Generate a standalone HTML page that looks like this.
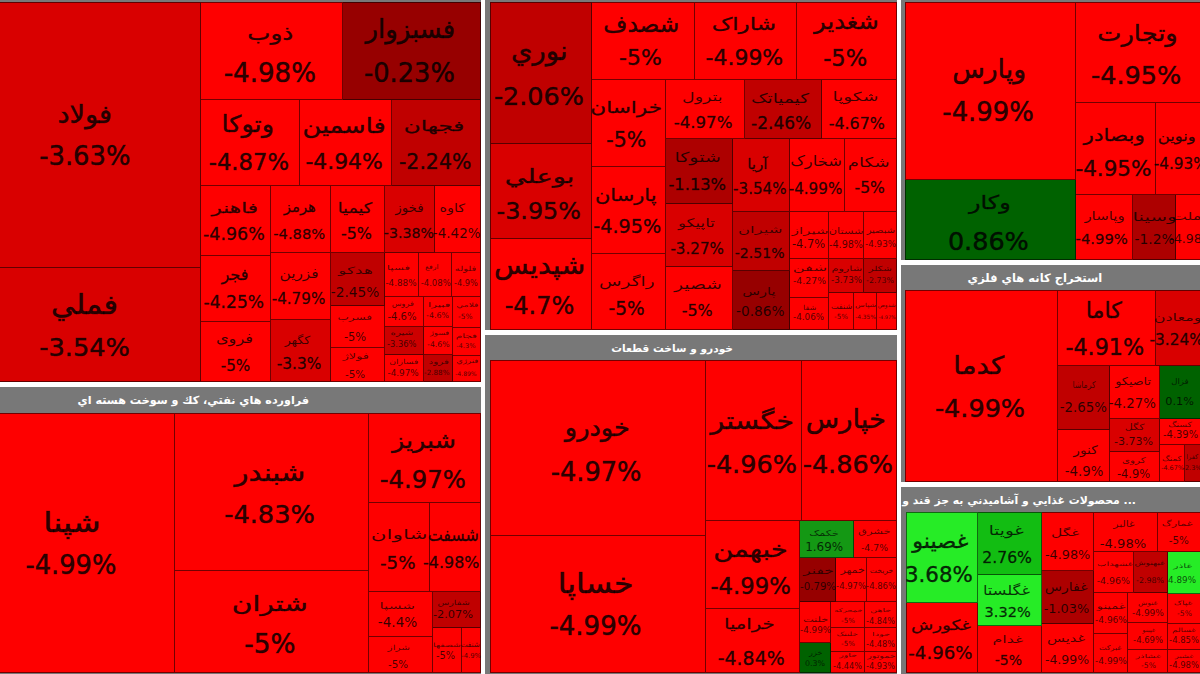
<!DOCTYPE html>
<html lang="fa"><head><meta charset="utf-8"><title>نقشه بازار</title>
<style>
html,body{margin:0;padding:0;background:#fff;}
body{width:1200px;height:674px;overflow:hidden;position:relative;font-family:"DejaVu Sans","Liberation Sans",sans-serif;}
.s{position:absolute;background:#787878;}
.h{position:absolute;height:25px;line-height:25px;color:#fff;font-weight:bold;font-size:11.5px;white-space:nowrap;direction:rtl;}
.c{position:absolute;box-sizing:border-box;border-right:1px solid rgba(0,0,0,0.55);border-bottom:1px solid rgba(0,0,0,0.55);overflow:hidden;color:rgba(0,0,0,0.84);white-space:nowrap;}
.a{display:flex;flex-direction:column;align-items:center;justify-content:center;text-align:center;}
.t{position:absolute;line-height:1.5;white-space:nowrap;-webkit-text-stroke:0.025em rgba(0,0,0,0.6);}
.r{direction:rtl;}
.tl{position:absolute;left:0;top:0;width:1200px;height:674px;overflow:hidden;color:rgba(0,0,0,0.84);}
</style></head><body>

<div class="s" style="left:0px;top:0px;width:481px;height:382px"></div>
<div class="s" style="left:485px;top:0px;width:412px;height:330px"></div>
<div class="s" style="left:901px;top:0px;width:299px;height:260px"></div>
<div class="s" style="left:0px;top:387px;width:481px;height:287px"></div>
<div class="h" style="left:77.6px;top:388px;font-size:11.17px">فراورده هاي نفتي، كك و سوخت هسته اي</div>
<div class="s" style="left:485px;top:335px;width:412px;height:339px"></div>
<div class="h" style="left:611.2px;top:336px;font-size:10.66px">خودرو و ساخت قطعات</div>
<div class="s" style="left:901px;top:265px;width:299px;height:217px"></div>
<div class="h" style="left:967.6px;top:266px;font-size:11.5px">استخراج كانه هاي فلزي</div>
<div class="s" style="left:901px;top:487px;width:299px;height:187px"></div>
<div class="h" style="left:902.3px;top:488px;font-size:10.86px">... محصولات غذايي و آشاميدني به جز قند و</div>
<div class="c" style="left:0px;top:2px;width:201px;height:266px;background:#d90000;box-shadow:inset 0px 1px 0 rgba(0,0,0,0.55);"></div>
<div class="c" style="left:0px;top:268px;width:201px;height:114px;background:#d90000;"></div>
<div class="c" style="left:201px;top:2px;width:142px;height:98px;background:#fe0000;box-shadow:inset 0px 1px 0 rgba(0,0,0,0.55);"></div>
<div class="c" style="left:343px;top:2px;width:138px;height:98px;background:#970000;box-shadow:inset 0px 1px 0 rgba(0,0,0,0.55);"></div>
<div class="c" style="left:201px;top:100px;width:99px;height:86px;background:#fe0000;"></div>
<div class="c" style="left:300px;top:100px;width:92px;height:86px;background:#fe0000;"></div>
<div class="c" style="left:392px;top:100px;width:89px;height:86px;background:#c00000;"></div>
<div class="c" style="left:201px;top:186px;width:70px;height:70px;background:#fe0000;"></div>
<div class="c" style="left:271px;top:186px;width:60px;height:67px;background:#fe0000;"></div>
<div class="c" style="left:331px;top:186px;width:54px;height:67px;background:#fe0000;"></div>
<div class="c" style="left:385px;top:186px;width:50px;height:67px;background:#d90000;"></div>
<div class="c" style="left:435px;top:186px;width:46px;height:67px;background:#fe0000;"></div>
<div class="c" style="left:201px;top:256px;width:70px;height:66px;background:#fe0000;"></div>
<div class="c" style="left:201px;top:322px;width:70px;height:60px;background:#fe0000;"></div>
<div class="c" style="left:271px;top:253px;width:60px;height:67px;background:#fe0000;"></div>
<div class="c" style="left:271px;top:320px;width:60px;height:62px;background:#d90000;"></div>
<div class="c" style="left:331px;top:253px;width:54px;height:53px;background:#c00000;"></div>
<div class="c" style="left:331px;top:306px;width:54px;height:42px;background:#fe0000;"></div>
<div class="c" style="left:331px;top:348px;width:54px;height:34px;background:#fe0000;"></div>
<div class="c" style="left:385px;top:253px;width:34px;height:44px;background:#fe0000;"></div>
<div class="c" style="left:419px;top:253px;width:33px;height:44px;background:#fe0000;"></div>
<div class="c" style="left:452px;top:253px;width:29px;height:44px;background:#fe0000;"></div>
<div class="c" style="left:385px;top:297px;width:39px;height:30px;background:#fe0000;"></div>
<div class="c" style="left:424px;top:297px;width:29px;height:30px;background:#fe0000;"></div>
<div class="c" style="left:453px;top:297px;width:28px;height:31px;background:#fe0000;"></div>
<div class="c" style="left:385px;top:327px;width:39px;height:28px;background:#cc0000;"></div>
<div class="c" style="left:424px;top:327px;width:29px;height:28px;background:#fe0000;"></div>
<div class="c" style="left:453px;top:328px;width:28px;height:28px;background:#fe0000;"></div>
<div class="c" style="left:385px;top:355px;width:39px;height:27px;background:#fe0000;"></div>
<div class="c" style="left:424px;top:355px;width:29px;height:27px;background:#c00000;"></div>
<div class="c" style="left:453px;top:356px;width:28px;height:26px;background:#fe0000;"></div>
<div class="c" style="left:490px;top:2px;width:102px;height:142px;background:#c00000;box-shadow:inset 1px 1px 0 rgba(0,0,0,0.55);"></div>
<div class="c" style="left:490px;top:144px;width:102px;height:95px;background:#d90000;box-shadow:inset 1px 0px 0 rgba(0,0,0,0.55);"></div>
<div class="c" style="left:490px;top:239px;width:102px;height:91px;background:#fe0000;box-shadow:inset 1px 0px 0 rgba(0,0,0,0.55);"></div>
<div class="c" style="left:592px;top:2px;width:103px;height:78px;background:#fe0000;box-shadow:inset 0px 1px 0 rgba(0,0,0,0.55);"></div>
<div class="c" style="left:695px;top:2px;width:102px;height:78px;background:#fe0000;box-shadow:inset 0px 1px 0 rgba(0,0,0,0.55);"></div>
<div class="c" style="left:797px;top:2px;width:100px;height:78px;background:#fe0000;box-shadow:inset 0px 1px 0 rgba(0,0,0,0.55);"></div>
<div class="c" style="left:592px;top:80px;width:74px;height:87px;background:#fe0000;"></div>
<div class="c" style="left:592px;top:167px;width:74px;height:87px;background:#fe0000;"></div>
<div class="c" style="left:592px;top:254px;width:74px;height:76px;background:#fe0000;"></div>
<div class="c" style="left:666px;top:80px;width:79px;height:59px;background:#fe0000;"></div>
<div class="c" style="left:745px;top:80px;width:77px;height:59px;background:#c00000;"></div>
<div class="c" style="left:822px;top:80px;width:75px;height:59px;background:#fe0000;"></div>
<div class="c" style="left:666px;top:139px;width:67px;height:65px;background:#ad0000;"></div>
<div class="c" style="left:666px;top:204px;width:67px;height:63px;background:#d90000;"></div>
<div class="c" style="left:666px;top:267px;width:67px;height:63px;background:#fe0000;"></div>
<div class="c" style="left:733px;top:139px;width:57px;height:73px;background:#d90000;"></div>
<div class="c" style="left:733px;top:212px;width:57px;height:59px;background:#c00000;"></div>
<div class="c" style="left:733px;top:271px;width:57px;height:59px;background:#970000;"></div>
<div class="c" style="left:790px;top:139px;width:55px;height:73px;background:#fe0000;"></div>
<div class="c" style="left:845px;top:139px;width:52px;height:73px;background:#fe0000;"></div>
<div class="c" style="left:790px;top:212px;width:39px;height:47px;background:#fe0000;"></div>
<div class="c" style="left:829px;top:212px;width:35px;height:47px;background:#fe0000;"></div>
<div class="c" style="left:864px;top:212px;width:33px;height:47px;background:#fe0000;"></div>
<div class="c" style="left:790px;top:259px;width:39px;height:39px;background:#fe0000;"></div>
<div class="c" style="left:829px;top:259px;width:35px;height:34px;background:#d90000;"></div>
<div class="c" style="left:864px;top:259px;width:33px;height:34px;background:#c00000;"></div>
<div class="c" style="left:790px;top:298px;width:39px;height:32px;background:#fe0000;"></div>
<div class="c" style="left:829px;top:293px;width:25px;height:37px;background:#fe0000;"></div>
<div class="c" style="left:854px;top:293px;width:23px;height:37px;background:#fe0000;"></div>
<div class="c" style="left:877px;top:293px;width:20px;height:37px;background:#fe0000;"></div>
<div class="c" style="left:905px;top:2px;width:171px;height:178px;background:#fe0000;box-shadow:inset 1px 1px 0 rgba(0,0,0,0.55);"></div>
<div class="c" style="left:905px;top:180px;width:171px;height:80px;background:#006200;box-shadow:inset 1px 0px 0 rgba(0,0,0,0.55);"></div>
<div class="c" style="left:1076px;top:2px;width:124px;height:101px;background:#fe0000;box-shadow:inset 0px 1px 0 rgba(0,0,0,0.55);border-right:0;"></div>
<div class="c" style="left:1076px;top:103px;width:80px;height:92px;background:#fe0000;"></div>
<div class="c" style="left:1156px;top:103px;width:44px;height:92px;background:#fe0000;border-right:0;"></div>
<div class="c" style="left:1076px;top:195px;width:57px;height:65px;background:#fe0000;"></div>
<div class="c" style="left:1133px;top:195px;width:43px;height:65px;background:#ad0000;"></div>
<div class="c" style="left:1176px;top:195px;width:24px;height:65px;background:#fe0000;border-right:0;"></div>
<div class="c" style="left:905px;top:290px;width:153px;height:192px;background:#fe0000;box-shadow:inset 1px 1px 0 rgba(0,0,0,0.55);"></div>
<div class="c" style="left:1058px;top:290px;width:98px;height:76px;background:#fe0000;box-shadow:inset 0px 1px 0 rgba(0,0,0,0.55);"></div>
<div class="c" style="left:1156px;top:290px;width:44px;height:76px;background:#d90000;box-shadow:inset 0px 1px 0 rgba(0,0,0,0.55);border-right:0;"></div>
<div class="c" style="left:1058px;top:366px;width:52px;height:64px;background:#c00000;"></div>
<div class="c" style="left:1058px;top:430px;width:52px;height:52px;background:#fe0000;"></div>
<div class="c" style="left:1110px;top:366px;width:50px;height:53px;background:#fe0000;"></div>
<div class="c" style="left:1160px;top:366px;width:40px;height:53px;background:#006200;border-right:0;"></div>
<div class="c" style="left:1110px;top:419px;width:50px;height:33px;background:#d90000;"></div>
<div class="c" style="left:1110px;top:452px;width:50px;height:30px;background:#fe0000;"></div>
<div class="c" style="left:1160px;top:419px;width:40px;height:26px;background:#fe0000;border-right:0;"></div>
<div class="c" style="left:1160px;top:445px;width:25px;height:37px;background:#fe0000;"></div>
<div class="c" style="left:1185px;top:445px;width:15px;height:37px;background:#c00000;border-right:0;"></div>
<div class="c" style="left:906px;top:512px;width:72px;height:91px;background:#26ec26;box-shadow:inset 1px 1px 0 rgba(0,0,0,0.55);"></div>
<div class="c" style="left:906px;top:603px;width:72px;height:70px;background:#fe0000;box-shadow:inset 1px 0px 0 rgba(0,0,0,0.55);"></div>
<div class="c" style="left:978px;top:512px;width:64px;height:63px;background:#12bd12;box-shadow:inset 0px 1px 0 rgba(0,0,0,0.55);"></div>
<div class="c" style="left:978px;top:575px;width:64px;height:51px;background:#26ec26;"></div>
<div class="c" style="left:978px;top:626px;width:64px;height:47px;background:#fe0000;"></div>
<div class="c" style="left:1042px;top:512px;width:52px;height:59px;background:#fe0000;box-shadow:inset 0px 1px 0 rgba(0,0,0,0.55);"></div>
<div class="c" style="left:1042px;top:571px;width:52px;height:53px;background:#ad0000;"></div>
<div class="c" style="left:1042px;top:624px;width:52px;height:49px;background:#fe0000;"></div>
<div class="c" style="left:1094px;top:512px;width:64px;height:40px;background:#fe0000;box-shadow:inset 0px 1px 0 rgba(0,0,0,0.55);"></div>
<div class="c" style="left:1158px;top:512px;width:42px;height:40px;background:#fe0000;box-shadow:inset 0px 1px 0 rgba(0,0,0,0.55);border-right:0;"></div>
<div class="c" style="left:1094px;top:552px;width:40px;height:41px;background:#fe0000;"></div>
<div class="c" style="left:1134px;top:552px;width:34px;height:41px;background:#c00000;"></div>
<div class="c" style="left:1168px;top:552px;width:32px;height:42px;background:#26ec26;border-right:0;"></div>
<div class="c" style="left:1094px;top:593px;width:34px;height:41px;background:#fe0000;"></div>
<div class="c" style="left:1094px;top:634px;width:34px;height:39px;background:#fe0000;"></div>
<div class="c" style="left:1128px;top:593px;width:40px;height:30px;background:#fe0000;"></div>
<div class="c" style="left:1128px;top:623px;width:40px;height:27px;background:#fe0000;"></div>
<div class="c" style="left:1128px;top:650px;width:40px;height:23px;background:#fe0000;"></div>
<div class="c" style="left:1168px;top:594px;width:32px;height:30px;background:#fe0000;border-right:0;"></div>
<div class="c" style="left:1168px;top:624px;width:32px;height:26px;background:#fe0000;border-right:0;"></div>
<div class="c" style="left:1168px;top:650px;width:32px;height:23px;background:#fe0000;border-right:0;"></div>
<div class="c" style="left:0px;top:413px;width:175px;height:260px;background:#fe0000;box-shadow:inset 0px 1px 0 rgba(0,0,0,0.55);"></div>
<div class="c" style="left:175px;top:413px;width:194px;height:158px;background:#fe0000;box-shadow:inset 0px 1px 0 rgba(0,0,0,0.55);"></div>
<div class="c" style="left:175px;top:571px;width:194px;height:102px;background:#fe0000;"></div>
<div class="c" style="left:369px;top:413px;width:112px;height:90px;background:#fe0000;box-shadow:inset 0px 1px 0 rgba(0,0,0,0.55);"></div>
<div class="c" style="left:369px;top:503px;width:61px;height:89px;background:#fe0000;"></div>
<div class="c" style="left:430px;top:503px;width:51px;height:89px;background:#fe0000;"></div>
<div class="c" style="left:369px;top:592px;width:64px;height:45px;background:#fe0000;"></div>
<div class="c" style="left:369px;top:637px;width:64px;height:36px;background:#fe0000;"></div>
<div class="c" style="left:433px;top:592px;width:48px;height:36px;background:#c00000;"></div>
<div class="c" style="left:433px;top:628px;width:29px;height:45px;background:#fe0000;"></div>
<div class="c" style="left:462px;top:628px;width:19px;height:45px;background:#fe0000;"></div>
<div class="c" style="left:490px;top:360px;width:216px;height:176px;background:#fe0000;box-shadow:inset 1px 1px 0 rgba(0,0,0,0.55);"></div>
<div class="c" style="left:490px;top:536px;width:216px;height:137px;background:#fe0000;box-shadow:inset 1px 0px 0 rgba(0,0,0,0.55);"></div>
<div class="c" style="left:706px;top:360px;width:96px;height:161px;background:#fe0000;box-shadow:inset 0px 1px 0 rgba(0,0,0,0.55);"></div>
<div class="c" style="left:802px;top:360px;width:95px;height:161px;background:#fe0000;box-shadow:inset 0px 1px 0 rgba(0,0,0,0.55);"></div>
<div class="c" style="left:706px;top:521px;width:94px;height:88px;background:#fe0000;"></div>
<div class="c" style="left:706px;top:609px;width:94px;height:64px;background:#fe0000;"></div>
<div class="c" style="left:800px;top:521px;width:54px;height:37px;background:#149814;"></div>
<div class="c" style="left:854px;top:521px;width:43px;height:37px;background:#fe0000;"></div>
<div class="c" style="left:800px;top:558px;width:36px;height:44px;background:#970000;"></div>
<div class="c" style="left:836px;top:558px;width:31px;height:44px;background:#fe0000;"></div>
<div class="c" style="left:867px;top:558px;width:30px;height:44px;background:#fe0000;"></div>
<div class="c" style="left:800px;top:602px;width:31px;height:41px;background:#fe0000;"></div>
<div class="c" style="left:800px;top:643px;width:31px;height:30px;background:#006200;"></div>
<div class="c" style="left:831px;top:602px;width:34px;height:26px;background:#fe0000;"></div>
<div class="c" style="left:865px;top:602px;width:32px;height:26px;background:#fe0000;"></div>
<div class="c" style="left:831px;top:628px;width:34px;height:24px;background:#fe0000;"></div>
<div class="c" style="left:865px;top:628px;width:32px;height:24px;background:#fe0000;"></div>
<div class="c" style="left:831px;top:652px;width:34px;height:21px;background:#fe0000;"></div>
<div class="c" style="left:865px;top:652px;width:32px;height:21px;background:#fe0000;"></div>
<div class="tl"><span class="t" style="left:39.2px;top:137.2px;font-size:25.80px">-3.63%</span>
<span class="t r" style="left:59.1px;top:95.1px;font-size:25.64px;transform:scaleX(1.060);transform-origin:25.6px 50%">فولاد</span>
<span class="t" style="left:39.2px;top:328.0px;font-size:25.63px">-3.54%</span>
<span class="t r" style="left:53.8px;top:283.6px;font-size:27.42px;transform:scaleX(1.103);transform-origin:30.3px 50%">فملي</span>
<span class="t" style="left:223.7px;top:53.7px;font-size:26.09px">-4.98%</span>
<span class="t r" style="left:251.7px;top:18.8px;font-size:19.54px;transform:scaleX(1.258);transform-origin:18.3px 50%">ذوب</span>
<span class="t" style="left:364.0px;top:54.0px;font-size:25.66px">-0.23%</span>
<span class="t r" style="left:365.5px;top:10.3px;font-size:25.88px">فسبزوار</span>
<span class="t" style="left:208.7px;top:145.1px;font-size:22.71px">-4.87%</span>
<span class="t r" style="left:223.9px;top:107.2px;font-size:23.10px;transform:scaleX(1.100);transform-origin:23.9px 50%">وتوکا</span>
<span class="t" style="left:305.4px;top:145.7px;font-size:21.87px">-4.94%</span>
<span class="t r" style="left:309.0px;top:109.6px;font-size:21.51px;transform:scaleX(1.185);transform-origin:35.1px 50%">فاسمين</span>
<span class="t" style="left:399.0px;top:146.7px;font-size:20.44px">-2.24%</span>
<span class="t r" style="left:415.4px;top:116.2px;font-size:14.52px;transform:scaleX(1.591);transform-origin:19.0px 50%;color:rgba(0,0,0,0.81)">فجهان</span>
<span class="t" style="left:203.1px;top:220.6px;font-size:17.41px">-4.96%</span>
<span class="t r" style="left:219.3px;top:197.5px;font-size:14.20px;transform:scaleX(1.511);transform-origin:14.6px 50%;color:rgba(0,0,0,0.80)">فاهنر</span>
<span class="t" style="left:273.3px;top:222.5px;font-size:14.66px;color:rgba(0,0,0,0.81)">-4.88%</span>
<span class="t r" style="left:283.8px;top:195.5px;font-size:14.83px;color:rgba(0,0,0,0.82)">هرمز</span>
<span class="t" style="left:340.9px;top:221.6px;font-size:15.92px;color:rgba(0,0,0,0.84)">-5%</span>
<span class="t r" style="left:341.0px;top:198.0px;font-size:14.41px;transform:scaleX(1.221);transform-origin:14.8px 50%;color:rgba(0,0,0,0.81)">کيميا</span>
<span class="t" style="left:383.8px;top:222.9px;font-size:14.20px;color:rgba(0,0,0,0.80)">-3.38%</span>
<span class="t r" style="left:395.6px;top:198.5px;font-size:12.63px;transform:scaleX(1.064);transform-origin:12.7px 50%;-webkit-text-stroke:0;color:rgba(0,0,0,0.77)">فخوز</span>
<span class="t" style="left:432.8px;top:223.4px;font-size:13.50px;-webkit-text-stroke:0;color:rgba(0,0,0,0.79)">-4.42%</span>
<span class="t r" style="left:442.4px;top:200.2px;font-size:11.61px;transform:scaleX(1.237);transform-origin:10.8px 50%;-webkit-text-stroke:0;color:rgba(0,0,0,0.75)">کاوه</span>
<span class="t" style="left:203.6px;top:289.7px;font-size:17.08px">-4.25%</span>
<span class="t r" style="left:221.4px;top:263.0px;font-size:16.20px">فجر</span>
<span class="t" style="left:220.7px;top:354.5px;font-size:15.22px;color:rgba(0,0,0,0.82)">-5%</span>
<span class="t r" style="left:218.6px;top:327.8px;font-size:13.51px;transform:scaleX(1.199);transform-origin:15.4px 50%;-webkit-text-stroke:0;color:rgba(0,0,0,0.79)">فروی</span>
<span class="t" style="left:271.7px;top:288.1px;font-size:15.16px;color:rgba(0,0,0,0.82)">-4.79%</span>
<span class="t r" style="left:281.9px;top:264.0px;font-size:13.40px;transform:scaleX(1.146);transform-origin:17.1px 50%;-webkit-text-stroke:0;color:rgba(0,0,0,0.79)">فزرين</span>
<span class="t" style="left:276.7px;top:352.9px;font-size:15.41px;color:rgba(0,0,0,0.83)">-3.3%</span>
<span class="t r" style="left:286.3px;top:333.0px;font-size:11.15px;transform:scaleX(1.121);transform-origin:11.2px 50%;-webkit-text-stroke:0;color:rgba(0,0,0,0.74)">کگهر</span>
<span class="t" style="left:330.8px;top:281.6px;font-size:13.70px;-webkit-text-stroke:0;color:rgba(0,0,0,0.79)">-2.45%</span>
<span class="t r" style="left:344.8px;top:263.2px;font-size:10.00px;transform:scaleX(1.683);transform-origin:9.7px 50%;-webkit-text-stroke:0;color:rgba(0,0,0,0.72)">هدکو</span>
<span class="t" style="left:343.9px;top:328.8px;font-size:11.41px;-webkit-text-stroke:0;color:rgba(0,0,0,0.75)">-5%</span>
<span class="t r" style="left:343.4px;top:311.2px;font-size:8.16px;transform:scaleX(1.481);transform-origin:11.6px 50%;-webkit-text-stroke:0;color:rgba(0,0,0,0.70)">فسرب</span>
<span class="t" style="left:345.0px;top:367.1px;font-size:10.33px;-webkit-text-stroke:0;color:rgba(0,0,0,0.73)">-5%</span>
<span class="t r" style="left:347.3px;top:350.0px;font-size:8.40px;transform:scaleX(1.532);transform-origin:8.2px 50%;-webkit-text-stroke:0;color:rgba(0,0,0,0.70)">فولاژ</span>
<span class="t" style="left:385.4px;top:277.0px;font-size:8.80px;-webkit-text-stroke:0;color:rgba(0,0,0,0.70)">-4.88%</span>
<span class="t r" style="left:392.0px;top:263.6px;font-size:6.53px;transform:scaleX(1.800);transform-origin:6.5px 50%;-webkit-text-stroke:0;color:rgba(0,0,0,0.70)">فسپا</span>
<span class="t" style="left:420.7px;top:277.2px;font-size:8.51px;-webkit-text-stroke:0;color:rgba(0,0,0,0.70)">-4.08%</span>
<span class="t r" style="left:425.9px;top:263.1px;font-size:6.47px;transform:scaleX(1.193);transform-origin:5.6px 50%;-webkit-text-stroke:0;color:rgba(0,0,0,0.70)">ارفع</span>
<span class="t" style="left:454.0px;top:277.4px;font-size:8.21px;-webkit-text-stroke:0;color:rgba(0,0,0,0.70)">-4.9%</span>
<span class="t r" style="left:458.0px;top:263.7px;font-size:6.97px;transform:scaleX(1.420);transform-origin:7.5px 50%;-webkit-text-stroke:0;color:rgba(0,0,0,0.70)">فلوله</span>
<span class="t" style="left:387.4px;top:308.7px;font-size:10.07px;-webkit-text-stroke:0;color:rgba(0,0,0,0.72)">-4.6%</span>
<span class="t r" style="left:392.7px;top:299.1px;font-size:7.16px;transform:scaleX(1.122);transform-origin:9.7px 50%;-webkit-text-stroke:0;color:rgba(0,0,0,0.70)">فروس</span>
<span class="t" style="left:426.1px;top:310.3px;font-size:7.89px;-webkit-text-stroke:0;color:rgba(0,0,0,0.70)">-4.6%</span>
<span class="t r" style="left:432.7px;top:300.6px;font-size:6.50px;transform:scaleX(1.800);transform-origin:6.3px 50%;-webkit-text-stroke:0;color:rgba(0,0,0,0.70)">فبيرا</span>
<span class="t" style="left:458.1px;top:310.7px;font-size:7.39px;-webkit-text-stroke:0;color:rgba(0,0,0,0.70)">-5%</span>
<span class="t r" style="left:459.7px;top:301.0px;font-size:5.98px;transform:scaleX(1.520);transform-origin:7.3px 50%;-webkit-text-stroke:0;color:rgba(0,0,0,0.70)">فلامي</span>
<span class="t" style="left:387.1px;top:338.0px;font-size:8.31px;-webkit-text-stroke:0;color:rgba(0,0,0,0.70)">-3.36%</span>
<span class="t r" style="left:394.2px;top:327.5px;font-size:7.11px;transform:scaleX(1.433);transform-origin:7.8px 50%;-webkit-text-stroke:0;color:rgba(0,0,0,0.70)">شيره</span>
<span class="t" style="left:427.1px;top:339.4px;font-size:7.78px;-webkit-text-stroke:0;color:rgba(0,0,0,0.70)">-4.6%</span>
<span class="t r" style="left:431.8px;top:329.3px;font-size:6.37px;transform:scaleX(1.274);transform-origin:7.2px 50%;-webkit-text-stroke:0;color:rgba(0,0,0,0.70)">فسوژ</span>
<span class="t" style="left:456.2px;top:341.2px;font-size:6.70px;-webkit-text-stroke:0;color:rgba(0,0,0,0.70)">-4.3%</span>
<span class="t r" style="left:460.1px;top:330.8px;font-size:6.24px;transform:scaleX(1.678);transform-origin:6.4px 50%;-webkit-text-stroke:0;color:rgba(0,0,0,0.70)">فجام</span>
<span class="t" style="left:387.5px;top:366.7px;font-size:8.80px;-webkit-text-stroke:0;color:rgba(0,0,0,0.70)">-4.97%</span>
<span class="t r" style="left:392.7px;top:356.8px;font-size:6.83px;transform:scaleX(1.353);transform-origin:10.8px 50%;-webkit-text-stroke:0;color:rgba(0,0,0,0.70)">فسازان</span>
<span class="t" style="left:424.1px;top:367.8px;font-size:7.20px;-webkit-text-stroke:0;color:rgba(0,0,0,0.70)">-2.88%</span>
<span class="t r" style="left:432.4px;top:356.9px;font-size:6.81px;transform:scaleX(1.525);transform-origin:6.6px 50%;-webkit-text-stroke:0;color:rgba(0,0,0,0.70)">فرود</span>
<span class="t" style="left:455.2px;top:368.6px;font-size:6.06px;-webkit-text-stroke:0;color:rgba(0,0,0,0.70)">-4.89%</span>
<span class="t r" style="left:458.6px;top:357.2px;font-size:6.46px;transform:scaleX(1.315);transform-origin:8.4px 50%;-webkit-text-stroke:0;color:rgba(0,0,0,0.70)">فنرژي</span>
<span class="t" style="left:493.9px;top:76.7px;font-size:25.45px">-2.06%</span>
<span class="t r" style="left:511.6px;top:31.4px;font-size:26.54px;transform:scaleX(1.034);transform-origin:26.9px 50%">نوري</span>
<span class="t" style="left:496.6px;top:194.2px;font-size:23.85px">-3.95%</span>
<span class="t r" style="left:514.6px;top:162.8px;font-size:19.10px;transform:scaleX(1.427);transform-origin:24.2px 50%">بوعلي</span>
<span class="t" style="left:504.7px;top:287.6px;font-size:24.01px">-4.7%</span>
<span class="t r" style="left:497.6px;top:246.4px;font-size:25.79px;transform:scaleX(1.100);transform-origin:41.1px 50%">شپديس</span>
<span class="t" style="left:619.1px;top:42.4px;font-size:21.90px">-5%</span>
<span class="t r" style="left:603.3px;top:6.8px;font-size:23.25px">شصدف</span>
<span class="t" style="left:705.6px;top:42.3px;font-size:21.95px">-4.99%</span>
<span class="t r" style="left:719.2px;top:10.5px;font-size:17.69px;transform:scaleX(1.301);transform-origin:24.5px 50%">شاراک</span>
<span class="t" style="left:823.2px;top:41.9px;font-size:22.61px">-5%</span>
<span class="t r" style="left:816.6px;top:5.8px;font-size:21.88px;transform:scaleX(1.104);transform-origin:27.9px 50%">شغدير</span>
<span class="t" style="left:606.3px;top:124.5px;font-size:20.49px">-5%</span>
<span class="t r" style="left:599.0px;top:96.0px;font-size:16.34px;transform:scaleX(1.322);transform-origin:27.1px 50%">خراسان</span>
<span class="t" style="left:593.3px;top:213.0px;font-size:19.18px">-4.95%</span>
<span class="t r" style="left:601.4px;top:183.2px;font-size:16.89px;transform:scaleX(1.240);transform-origin:25.2px 50%">پارسان</span>
<span class="t" style="left:608.6px;top:295.4px;font-size:18.59px">-5%</span>
<span class="t r" style="left:607.3px;top:271.6px;font-size:13.18px;transform:scaleX(1.399);transform-origin:19.8px 50%;-webkit-text-stroke:0;color:rgba(0,0,0,0.78)">راگرس</span>
<span class="t" style="left:673.7px;top:111.2px;font-size:16.62px">-4.97%</span>
<span class="t r" style="left:688.2px;top:88.4px;font-size:12.19px;transform:scaleX(1.419);transform-origin:14.1px 50%;-webkit-text-stroke:0;color:rgba(0,0,0,0.76)">بترول</span>
<span class="t" style="left:751.1px;top:110.9px;font-size:17.03px">-2.46%</span>
<span class="t r" style="left:759.0px;top:88.1px;font-size:13.49px;transform:scaleX(1.374);transform-origin:21.6px 50%;-webkit-text-stroke:0;color:rgba(0,0,0,0.79)">کيمياتک</span>
<span class="t" style="left:828.7px;top:111.7px;font-size:15.89px;color:rgba(0,0,0,0.84)">-4.67%</span>
<span class="t r" style="left:840.4px;top:88.2px;font-size:12.53px;transform:scaleX(1.476);transform-origin:15.7px 50%;-webkit-text-stroke:0;color:rgba(0,0,0,0.77)">شکوپا</span>
<span class="t" style="left:668.5px;top:172.8px;font-size:16.27px">-1.13%</span>
<span class="t r" style="left:680.5px;top:147.3px;font-size:13.70px;transform:scaleX(1.389);transform-origin:16.7px 50%;-webkit-text-stroke:0;color:rgba(0,0,0,0.79)">شتوکا</span>
<span class="t" style="left:670.4px;top:238.0px;font-size:15.13px;color:rgba(0,0,0,0.82)">-3.27%</span>
<span class="t r" style="left:683.1px;top:215.1px;font-size:11.85px;transform:scaleX(1.387);transform-origin:12.8px 50%;-webkit-text-stroke:0;color:rgba(0,0,0,0.76)">تاپيکو</span>
<span class="t" style="left:681.7px;top:298.5px;font-size:15.92px;color:rgba(0,0,0,0.84)">-5%</span>
<span class="t r" style="left:681.4px;top:275.4px;font-size:12.98px;transform:scaleX(1.440);transform-origin:15.8px 50%;-webkit-text-stroke:0;color:rgba(0,0,0,0.78)">شصير</span>
<span class="t" style="left:733.1px;top:177.5px;font-size:15.13px;color:rgba(0,0,0,0.82)">-3.54%</span>
<span class="t r" style="left:747.6px;top:154.0px;font-size:14.05px;transform:scaleX(1.081);transform-origin:10.3px 50%;color:rgba(0,0,0,0.80)">آريا</span>
<span class="t" style="left:734.8px;top:243.2px;font-size:14.05px;color:rgba(0,0,0,0.80)">-2.51%</span>
<span class="t r" style="left:747.1px;top:223.1px;font-size:9.75px;transform:scaleX(1.682);transform-origin:13.1px 50%;-webkit-text-stroke:0;color:rgba(0,0,0,0.71)">شيران</span>
<span class="t" style="left:736.0px;top:301.4px;font-size:13.70px;-webkit-text-stroke:0;color:rgba(0,0,0,0.79)">-0.86%</span>
<span class="t r" style="left:746.8px;top:283.7px;font-size:10.47px;transform:scaleX(1.387);transform-origin:12.1px 50%;-webkit-text-stroke:0;color:rgba(0,0,0,0.73)">پارس</span>
<span class="t" style="left:788.7px;top:177.5px;font-size:15.16px;color:rgba(0,0,0,0.82)">-4.99%</span>
<span class="t r" style="left:793.5px;top:151.4px;font-size:13.93px;transform:scaleX(1.174);transform-origin:21.9px 50%;-webkit-text-stroke:0;color:rgba(0,0,0,0.80)">شخارک</span>
<span class="t" style="left:854.5px;top:177.2px;font-size:15.60px;color:rgba(0,0,0,0.83)">-5%</span>
<span class="t r" style="left:852.7px;top:152.2px;font-size:13.58px;transform:scaleX(1.333);transform-origin:15.6px 50%;-webkit-text-stroke:0;color:rgba(0,0,0,0.79)">شکام</span>
<span class="t" style="left:791.9px;top:236.2px;font-size:11.47px;-webkit-text-stroke:0;color:rgba(0,0,0,0.75)">-4.7%</span>
<span class="t r" style="left:799.3px;top:224.7px;font-size:8.79px;transform:scaleX(1.700);transform-origin:10.2px 50%;-webkit-text-stroke:0;color:rgba(0,0,0,0.70)">شيراز</span>
<span class="t" style="left:829.0px;top:237.6px;font-size:9.62px;-webkit-text-stroke:0;color:rgba(0,0,0,0.71)">-4.98%</span>
<span class="t r" style="left:832.9px;top:225.2px;font-size:8.57px;transform:scaleX(1.319);transform-origin:13.1px 50%;-webkit-text-stroke:0;color:rgba(0,0,0,0.70)">شستان</span>
<span class="t" style="left:865.1px;top:238.2px;font-size:8.75px;-webkit-text-stroke:0;color:rgba(0,0,0,0.70)">-4.93%</span>
<span class="t r" style="left:868.3px;top:223.8px;font-size:8.93px;transform:scaleX(1.112);transform-origin:12.2px 50%;-webkit-text-stroke:0;color:rgba(0,0,0,0.70)">شبصير</span>
<span class="t" style="left:793.0px;top:273.8px;font-size:9.33px;-webkit-text-stroke:0;color:rgba(0,0,0,0.71)">-4.27%</span>
<span class="t r" style="left:799.8px;top:260.9px;font-size:9.32px;transform:scaleX(1.760);transform-origin:9.7px 50%;-webkit-text-stroke:0;color:rgba(0,0,0,0.71)">شفن</span>
<span class="t" style="left:831.1px;top:274.2px;font-size:8.75px;-webkit-text-stroke:0;color:rgba(0,0,0,0.70)">-3.73%</span>
<span class="t r" style="left:837.2px;top:263.5px;font-size:7.20px;transform:scaleX(1.567);transform-origin:9.8px 50%;-webkit-text-stroke:0;color:rgba(0,0,0,0.70)">شاروم</span>
<span class="t" style="left:866.1px;top:274.8px;font-size:7.87px;-webkit-text-stroke:0;color:rgba(0,0,0,0.70)">-2.73%</span>
<span class="t r" style="left:872.4px;top:263.6px;font-size:7.06px;transform:scaleX(1.461);transform-origin:7.6px 50%;-webkit-text-stroke:0;color:rgba(0,0,0,0.70)">شکلر</span>
<span class="t" style="left:793.1px;top:311.2px;font-size:8.75px;-webkit-text-stroke:0;color:rgba(0,0,0,0.70)">-4.06%</span>
<span class="t r" style="left:803.8px;top:303.0px;font-size:6.95px;transform:scaleX(1.174);transform-origin:5.7px 50%;-webkit-text-stroke:0;color:rgba(0,0,0,0.70)">شفا</span>
<span class="t" style="left:834.1px;top:312.4px;font-size:7.07px;-webkit-text-stroke:0;color:rgba(0,0,0,0.70)">-5%</span>
<span class="t r" style="left:830.9px;top:299.5px;font-size:8.12px;-webkit-text-stroke:0;color:rgba(0,0,0,0.70)">شنفت</span>
<span class="t" style="left:855.2px;top:313.3px;font-size:5.83px;-webkit-text-stroke:0;color:rgba(0,0,0,0.70)">-4.35%</span>
<span class="t r" style="left:857.9px;top:301.2px;font-size:5.74px;transform:scaleX(1.382);transform-origin:7.6px 50%;-webkit-text-stroke:0;color:rgba(0,0,0,0.70)">شپاس</span>
<span class="t" style="left:878.3px;top:313.9px;font-size:4.96px;-webkit-text-stroke:0;color:rgba(0,0,0,0.70)">-4.97%</span>
<span class="t r" style="left:878.4px;top:300.7px;font-size:5.70px;transform:scaleX(1.025);transform-origin:8.6px 50%;-webkit-text-stroke:0;color:rgba(0,0,0,0.70)">شدوص</span>
<span class="t" style="left:942.3px;top:93.3px;font-size:25.86px">-4.99%</span>
<span class="t r" style="left:952.7px;top:50.2px;font-size:26.09px;transform:scaleX(1.023);transform-origin:35.9px 50%">وپارس</span>
<span class="t" style="left:947.9px;top:222.4px;font-size:25.48px">0.86%</span>
<span class="t r" style="left:973.1px;top:187.9px;font-size:19.00px;transform:scaleX(1.256);transform-origin:15.5px 50%">وکار</span>
<span class="t" style="left:1091.0px;top:56.0px;font-size:25.51px">-4.95%</span>
<span class="t r" style="left:1101.6px;top:17.4px;font-size:22.65px;transform:scaleX(1.132);transform-origin:35.3px 50%">وتجارت</span>
<span class="t" style="left:1075.4px;top:152.7px;font-size:21.50px">-4.95%</span>
<span class="t r" style="left:1088.7px;top:122.3px;font-size:17.49px;transform:scaleX(1.224);transform-origin:24.0px 50%">وبصادر</span>
<span class="t" style="left:1153.7px;top:152.9px;font-size:15.30px;color:rgba(0,0,0,0.83)">-4.93%</span>
<span class="t r" style="left:1159.9px;top:125.9px;font-size:14.45px;transform:scaleX(1.142);transform-origin:16.7px 50%;color:rgba(0,0,0,0.81)">ونوين</span>
<span class="t" style="left:1075.6px;top:228.2px;font-size:14.78px;color:rgba(0,0,0,0.82)">-4.99%</span>
<span class="t r" style="left:1088.9px;top:207.9px;font-size:11.36px;transform:scaleX(1.316);transform-origin:14.6px 50%;-webkit-text-stroke:0;color:rgba(0,0,0,0.75)">وپاسار</span>
<span class="t" style="left:1134.6px;top:228.9px;font-size:13.76px;-webkit-text-stroke:0;color:rgba(0,0,0,0.80)">-1.2%</span>
<span class="t r" style="left:1141.8px;top:208.5px;font-size:11.32px;transform:scaleX(1.749);transform-origin:12.7px 50%;-webkit-text-stroke:0;color:rgba(0,0,0,0.75)">وسينا</span>
<span class="t" style="left:1169.4px;top:229.8px;font-size:12.50px;-webkit-text-stroke:0;color:rgba(0,0,0,0.77)">-4.98%</span>
<span class="t r" style="left:1177.7px;top:209.1px;font-size:10.62px;transform:scaleX(1.505);transform-origin:12.3px 50%;-webkit-text-stroke:0;color:rgba(0,0,0,0.73)">وملت</span>
<span class="t" style="left:934.9px;top:389.0px;font-size:25.51px">-4.99%</span>
<span class="t r" style="left:956.1px;top:347.0px;font-size:24.77px;transform:scaleX(1.112);transform-origin:23.9px 50%">کدما</span>
<span class="t" style="left:1065.4px;top:330.5px;font-size:22.27px">-4.91%</span>
<span class="t r" style="left:1085.7px;top:294.1px;font-size:22.31px">کاما</span>
<span class="t" style="left:1149.5px;top:329.3px;font-size:15.36px;color:rgba(0,0,0,0.83)">-3.24%</span>
<span class="t r" style="left:1162.2px;top:309.6px;font-size:10.46px;transform:scaleX(1.532);transform-origin:15.6px 50%;-webkit-text-stroke:0;color:rgba(0,0,0,0.73)">ومعادن</span>
<span class="t" style="left:1059.7px;top:398.4px;font-size:13.32px;-webkit-text-stroke:0;color:rgba(0,0,0,0.79)">-2.65%</span>
<span class="t r" style="left:1069.5px;top:377.5px;font-size:9.29px;transform:scaleX(0.822);transform-origin:14.4px 50%;-webkit-text-stroke:0;color:rgba(0,0,0,0.71)">کرماشا</span>
<span class="t" style="left:1064.8px;top:461.5px;font-size:13.26px;-webkit-text-stroke:0;color:rgba(0,0,0,0.79)">-4.9%</span>
<span class="t r" style="left:1074.8px;top:442.2px;font-size:11.76px;transform:scaleX(1.168);transform-origin:10.2px 50%;-webkit-text-stroke:0;color:rgba(0,0,0,0.76)">کنور</span>
<span class="t" style="left:1108.8px;top:393.5px;font-size:13.32px;-webkit-text-stroke:0;color:rgba(0,0,0,0.79)">-4.27%</span>
<span class="t r" style="left:1117.7px;top:373.9px;font-size:10.75px;transform:scaleX(1.185);transform-origin:14.7px 50%;-webkit-text-stroke:0;color:rgba(0,0,0,0.74)">تاصيکو</span>
<span class="t" style="left:1165.3px;top:394.4px;font-size:11.29px;-webkit-text-stroke:0;color:rgba(0,0,0,0.75)">0.1%</span>
<span class="t r" style="left:1172.4px;top:376.3px;font-size:7.81px;transform:scaleX(1.098);transform-origin:7.9px 50%;-webkit-text-stroke:0;color:rgba(0,0,0,0.70)">فزال</span>
<span class="t" style="left:1113.9px;top:434.0px;font-size:11.08px;-webkit-text-stroke:0;color:rgba(0,0,0,0.74)">-3.73%</span>
<span class="t r" style="left:1127.0px;top:421.3px;font-size:8.57px;transform:scaleX(1.288);transform-origin:8.0px 50%;-webkit-text-stroke:0;color:rgba(0,0,0,0.70)">کگل</span>
<span class="t" style="left:1116.9px;top:465.7px;font-size:11.47px;-webkit-text-stroke:0;color:rgba(0,0,0,0.75)">-4.9%</span>
<span class="t r" style="left:1124.8px;top:454.5px;font-size:7.81px;transform:scaleX(1.321);transform-origin:9.2px 50%;-webkit-text-stroke:0;color:rgba(0,0,0,0.70)">کروی</span>
<span class="t" style="left:1163.0px;top:428.4px;font-size:9.91px;-webkit-text-stroke:0;color:rgba(0,0,0,0.72)">-4.39%</span>
<span class="t r" style="left:1170.6px;top:419.7px;font-size:7.11px;transform:scaleX(1.288);transform-origin:9.4px 50%;-webkit-text-stroke:0;color:rgba(0,0,0,0.70)">کسنگ</span>
<span class="t" style="left:1161.2px;top:464.4px;font-size:6.41px;-webkit-text-stroke:0;color:rgba(0,0,0,0.70)">-4.67%</span>
<span class="t r" style="left:1163.9px;top:453.8px;font-size:7.00px;transform:scaleX(1.240);transform-origin:8.1px 50%;-webkit-text-stroke:0;color:rgba(0,0,0,0.70)">کمنگ</span>
<span class="t" style="left:1182.6px;top:464.3px;font-size:6.50px;-webkit-text-stroke:0;color:rgba(0,0,0,0.70)">-2.3%</span>
<span class="t r" style="left:1186.3px;top:453.1px;font-size:6.50px;-webkit-text-stroke:0;color:rgba(0,0,0,0.70)">کفرا</span>
<span class="t" style="left:905.0px;top:559.2px;font-size:21.32px">3.68%</span>
<span class="t r" style="left:915.2px;top:525.8px;font-size:20.10px;transform:scaleX(1.110);transform-origin:24.5px 50%">غصينو</span>
<span class="t" style="left:908.3px;top:639.3px;font-size:18.16px">-4.96%</span>
<span class="t r" style="left:917.6px;top:614.6px;font-size:14.00px;transform:scaleX(1.304);transform-origin:23.3px 50%;color:rgba(0,0,0,0.80)">غکورش</span>
<span class="t" style="left:982.3px;top:546.2px;font-size:15.64px;color:rgba(0,0,0,0.83)">2.76%</span>
<span class="t r" style="left:994.3px;top:521.1px;font-size:12.97px;transform:scaleX(1.409);transform-origin:12.9px 50%;-webkit-text-stroke:0;color:rgba(0,0,0,0.78)">غويتا</span>
<span class="t" style="left:984.6px;top:602.4px;font-size:14.51px;color:rgba(0,0,0,0.81)">3.32%</span>
<span class="t r" style="left:987.2px;top:580.3px;font-size:13.48px;transform:scaleX(1.205);transform-origin:20.0px 50%;-webkit-text-stroke:0;color:rgba(0,0,0,0.79)">غگلستا</span>
<span class="t" style="left:994.8px;top:649.6px;font-size:14.02px;color:rgba(0,0,0,0.80)">-5%</span>
<span class="t r" style="left:997.5px;top:631.6px;font-size:10.34px;transform:scaleX(1.537);transform-origin:10.3px 50%;-webkit-text-stroke:0;color:rgba(0,0,0,0.73)">غدام</span>
<span class="t" style="left:1044.9px;top:544.6px;font-size:12.83px;-webkit-text-stroke:0;color:rgba(0,0,0,0.78)">-4.98%</span>
<span class="t r" style="left:1055.5px;top:524.6px;font-size:10.15px;transform:scaleX(1.529);transform-origin:9.5px 50%;-webkit-text-stroke:0;color:rgba(0,0,0,0.72)">غگل</span>
<span class="t" style="left:1043.7px;top:599.4px;font-size:12.83px;-webkit-text-stroke:0;color:rgba(0,0,0,0.78)">-1.03%</span>
<span class="t r" style="left:1047.9px;top:577.9px;font-size:12.00px;transform:scaleX(1.175);transform-origin:18.4px 50%;-webkit-text-stroke:0;color:rgba(0,0,0,0.76)">غفارس</span>
<span class="t" style="left:1044.9px;top:650.7px;font-size:12.48px;-webkit-text-stroke:0;color:rgba(0,0,0,0.77)">-4.99%</span>
<span class="t r" style="left:1052.0px;top:630.6px;font-size:10.86px;transform:scaleX(1.347);transform-origin:14.3px 50%;-webkit-text-stroke:0;color:rgba(0,0,0,0.74)">غديس</span>
<span class="t" style="left:1099.8px;top:534.3px;font-size:13.12px;-webkit-text-stroke:0;color:rgba(0,0,0,0.78)">-4.98%</span>
<span class="t r" style="left:1114.7px;top:517.9px;font-size:8.99px;transform:scaleX(1.206);transform-origin:8.6px 50%;-webkit-text-stroke:0;color:rgba(0,0,0,0.70)">غالبر</span>
<span class="t" style="left:1168.8px;top:532.9px;font-size:10.33px;-webkit-text-stroke:0;color:rgba(0,0,0,0.73)">-5%</span>
<span class="t r" style="left:1167.1px;top:519.1px;font-size:7.32px;transform:scaleX(1.508);transform-origin:10.3px 50%;-webkit-text-stroke:0;color:rgba(0,0,0,0.70)">غمارگ</span>
<span class="t" style="left:1096.7px;top:574.0px;font-size:9.42px;-webkit-text-stroke:0;color:rgba(0,0,0,0.71)">-4.96%</span>
<span class="t r" style="left:1103.5px;top:559.3px;font-size:6.14px;transform:scaleX(1.615);transform-origin:11.2px 50%;-webkit-text-stroke:0;color:rgba(0,0,0,0.70)">غشهداب</span>
<span class="t" style="left:1136.1px;top:575.1px;font-size:7.87px;-webkit-text-stroke:0;color:rgba(0,0,0,0.70)">-2.98%</span>
<span class="t r" style="left:1138.5px;top:558.7px;font-size:6.46px;transform:scaleX(1.423);transform-origin:10.9px 50%;-webkit-text-stroke:0;color:rgba(0,0,0,0.70)">غبهنوش</span>
<span class="t" style="left:1168.1px;top:574.1px;font-size:8.79px;-webkit-text-stroke:0;color:rgba(0,0,0,0.70)">4.89%</span>
<span class="t r" style="left:1176.7px;top:560.5px;font-size:6.29px;transform:scaleX(1.707);transform-origin:5.3px 50%;-webkit-text-stroke:0;color:rgba(0,0,0,0.70)">غاذر</span>
<span class="t" style="left:1095.0px;top:614.0px;font-size:9.04px;-webkit-text-stroke:0;color:rgba(0,0,0,0.70)">-4.96%</span>
<span class="t r" style="left:1102.2px;top:600.3px;font-size:8.15px;transform:scaleX(1.596);transform-origin:8.8px 50%;-webkit-text-stroke:0;color:rgba(0,0,0,0.70)">غمينو</span>
<span class="t" style="left:1095.0px;top:655.0px;font-size:9.04px;-webkit-text-stroke:0;color:rgba(0,0,0,0.70)">-4.99%</span>
<span class="t r" style="left:1101.1px;top:644.1px;font-size:6.54px;transform:scaleX(1.223);transform-origin:9.4px 50%;-webkit-text-stroke:0;color:rgba(0,0,0,0.70)">غبرکت</span>
<span class="t" style="left:1132.0px;top:607.0px;font-size:9.04px;-webkit-text-stroke:0;color:rgba(0,0,0,0.70)">-4.99%</span>
<span class="t r" style="left:1140.0px;top:597.6px;font-size:6.12px;transform:scaleX(1.252);transform-origin:8.0px 50%;-webkit-text-stroke:0;color:rgba(0,0,0,0.70)">غنوش</span>
<span class="t" style="left:1133.1px;top:634.4px;font-size:8.45px;-webkit-text-stroke:0;color:rgba(0,0,0,0.70)">-4.69%</span>
<span class="t r" style="left:1142.5px;top:625.8px;font-size:5.86px;transform:scaleX(1.132);transform-origin:5.5px 50%;-webkit-text-stroke:0;color:rgba(0,0,0,0.70)">غپينو</span>
<span class="t" style="left:1141.1px;top:659.5px;font-size:7.61px;-webkit-text-stroke:0;color:rgba(0,0,0,0.70)">-5%</span>
<span class="t r" style="left:1141.0px;top:652.0px;font-size:5.40px;transform:scaleX(1.800);transform-origin:7.0px 50%;-webkit-text-stroke:0;color:rgba(0,0,0,0.70)">غشاذر</span>
<span class="t" style="left:1177.1px;top:608.0px;font-size:7.61px;-webkit-text-stroke:0;color:rgba(0,0,0,0.70)">-5%</span>
<span class="t r" style="left:1177.3px;top:598.0px;font-size:6.02px;transform:scaleX(1.542);transform-origin:6.2px 50%;-webkit-text-stroke:0;color:rgba(0,0,0,0.70)">غپاک</span>
<span class="t" style="left:1169.1px;top:634.4px;font-size:8.45px;-webkit-text-stroke:0;color:rgba(0,0,0,0.70)">-4.85%</span>
<span class="t r" style="left:1175.9px;top:626.1px;font-size:5.94px;transform:scaleX(1.495);transform-origin:8.1px 50%;-webkit-text-stroke:0;color:rgba(0,0,0,0.70)">غسالم</span>
<span class="t" style="left:1169.1px;top:658.9px;font-size:8.45px;-webkit-text-stroke:0;color:rgba(0,0,0,0.70)">-4.98%</span>
<span class="t r" style="left:1178.1px;top:651.8px;font-size:5.37px;transform:scaleX(1.553);transform-origin:5.9px 50%;-webkit-text-stroke:0;color:rgba(0,0,0,0.70)">غشير</span>
<span class="t" style="left:25.5px;top:546.1px;font-size:25.69px">-4.99%</span>
<span class="t r" style="left:47.5px;top:501.7px;font-size:27.38px;transform:scaleX(1.203);transform-origin:24.0px 50%">شپنا</span>
<span class="t" style="left:224.2px;top:495.2px;font-size:25.60px">-4.83%</span>
<span class="t r" style="left:240.4px;top:454.5px;font-size:24.21px;transform:scaleX(1.194);transform-origin:28.2px 50%">شبندر</span>
<span class="t" style="left:244.2px;top:624.7px;font-size:26.30px">-5%</span>
<span class="t r" style="left:241.5px;top:588.9px;font-size:20.50px;transform:scaleX(1.372);transform-origin:27.6px 50%">شتران</span>
<span class="t" style="left:379.7px;top:462.1px;font-size:24.37px">-4.97%</span>
<span class="t r" style="left:395.6px;top:423.9px;font-size:22.01px;transform:scaleX(1.150);transform-origin:26.4px 50%">شبريز</span>
<span class="t" style="left:380.0px;top:549.0px;font-size:18.26px">-5%</span>
<span class="t r" style="left:381.2px;top:524.4px;font-size:13.69px;transform:scaleX(1.568);transform-origin:17.9px 50%;-webkit-text-stroke:0;color:rgba(0,0,0,0.79)">شاوان</span>
<span class="t" style="left:423.1px;top:550.7px;font-size:15.92px;color:rgba(0,0,0,0.84)">-4.98%</span>
<span class="t r" style="left:423.5px;top:521.1px;font-size:18.23px;transform:scaleX(0.874);transform-origin:29.1px 50%">شسفت</span>
<span class="t" style="left:377.8px;top:612.2px;font-size:13.62px;-webkit-text-stroke:0;color:rgba(0,0,0,0.79)">-4.4%</span>
<span class="t r" style="left:386.6px;top:599.7px;font-size:8.85px;transform:scaleX(1.727);transform-origin:10.4px 50%;-webkit-text-stroke:0;color:rgba(0,0,0,0.70)">شسپا</span>
<span class="t" style="left:388.0px;top:656.6px;font-size:10.33px;-webkit-text-stroke:0;color:rgba(0,0,0,0.73)">-5%</span>
<span class="t r" style="left:391.3px;top:642.6px;font-size:7.08px;transform:scaleX(1.472);transform-origin:7.2px 50%;-webkit-text-stroke:0;color:rgba(0,0,0,0.70)">شراز</span>
<span class="t" style="left:432.9px;top:606.3px;font-size:11.37px;-webkit-text-stroke:0;color:rgba(0,0,0,0.75)">-2.07%</span>
<span class="t r" style="left:441.5px;top:597.8px;font-size:6.92px;transform:scaleX(1.395);transform-origin:11.5px 50%;-webkit-text-stroke:0;color:rgba(0,0,0,0.70)">شفارس</span>
<span class="t" style="left:436.0px;top:648.5px;font-size:9.78px;-webkit-text-stroke:0;color:rgba(0,0,0,0.72)">-5%</span>
<span class="t r" style="left:437.5px;top:640.0px;font-size:6.02px;transform:scaleX(1.542);transform-origin:9.0px 50%;-webkit-text-stroke:0;color:rgba(0,0,0,0.70)">شصفها</span>
<span class="t" style="left:461.2px;top:650.6px;font-size:6.81px;-webkit-text-stroke:0;color:rgba(0,0,0,0.70)">-4.9%</span>
<span class="t r" style="left:460.3px;top:638.7px;font-size:7.83px;transform:scaleX(0.927);transform-origin:10.2px 50%;-webkit-text-stroke:0;color:rgba(0,0,0,0.70)">شنفت</span>
<span class="t" style="left:550.7px;top:452.5px;font-size:25.66px">-4.97%</span>
<span class="t r" style="left:565.5px;top:409.5px;font-size:24.59px;transform:scaleX(1.040);transform-origin:29.9px 50%">خودرو</span>
<span class="t" style="left:549.4px;top:607.3px;font-size:26.03px">-4.99%</span>
<span class="t r" style="left:562.3px;top:563.3px;font-size:28.00px;transform:scaleX(1.127);transform-origin:33.7px 50%">خساپا</span>
<span class="t" style="left:706.7px;top:444.5px;font-size:25.51px">-4.96%</span>
<span class="t r" style="left:716.8px;top:403.3px;font-size:24.04px;transform:scaleX(1.192);transform-origin:33.7px 50%">خگستر</span>
<span class="t" style="left:802.7px;top:444.5px;font-size:25.51px">-4.86%</span>
<span class="t r" style="left:808.3px;top:400.3px;font-size:25.83px;transform:scaleX(1.059);transform-origin:37.6px 50%">خپارس</span>
<span class="t" style="left:710.4px;top:568.5px;font-size:22.74px">-4.99%</span>
<span class="t r" style="left:720.1px;top:532.8px;font-size:22.38px;transform:scaleX(1.226);transform-origin:30.4px 50%">خبهمن</span>
<span class="t" style="left:717.8px;top:643.6px;font-size:18.89px">-4.84%</span>
<span class="t r" style="left:731.3px;top:614.4px;font-size:14.23px;transform:scaleX(1.379);transform-origin:18.6px 50%;color:rgba(0,0,0,0.80)">خراميا</span>
<span class="t" style="left:805.2px;top:539.4px;font-size:11.96px;-webkit-text-stroke:0;color:rgba(0,0,0,0.76)">1.69%</span>
<span class="t r" style="left:812.5px;top:527.3px;font-size:8.38px;transform:scaleX(1.332);transform-origin:11.0px 50%;-webkit-text-stroke:0;color:rgba(0,0,0,0.70)">خکمک</span>
<span class="t" style="left:861.0px;top:541.3px;font-size:9.32px;-webkit-text-stroke:0;color:rgba(0,0,0,0.71)">-4.7%</span>
<span class="t r" style="left:862.8px;top:526.4px;font-size:7.96px;transform:scaleX(1.437);transform-origin:11.2px 50%;-webkit-text-stroke:0;color:rgba(0,0,0,0.70)">خشرق</span>
<span class="t" style="left:800.0px;top:579.2px;font-size:10.20px;-webkit-text-stroke:0;color:rgba(0,0,0,0.72)">-0.79%</span>
<span class="t r" style="left:808.8px;top:563.8px;font-size:9.32px;transform:scaleX(1.660);transform-origin:8.7px 50%;-webkit-text-stroke:0;color:rgba(0,0,0,0.71)">خفنر</span>
<span class="t" style="left:836.1px;top:580.4px;font-size:8.45px;-webkit-text-stroke:0;color:rgba(0,0,0,0.70)">-4.97%</span>
<span class="t r" style="left:842.5px;top:564.4px;font-size:8.58px;transform:scaleX(1.289);transform-origin:9.0px 50%;-webkit-text-stroke:0;color:rgba(0,0,0,0.70)">خمهر</span>
<span class="t" style="left:866.1px;top:580.4px;font-size:8.45px;-webkit-text-stroke:0;color:rgba(0,0,0,0.70)">-4.86%</span>
<span class="t r" style="left:869.8px;top:565.3px;font-size:7.63px;-webkit-text-stroke:0;color:rgba(0,0,0,0.70)">خريخت</span>
<span class="t" style="left:800.1px;top:624.2px;font-size:8.75px;-webkit-text-stroke:0;color:rgba(0,0,0,0.70)">-4.99%</span>
<span class="t r" style="left:807.0px;top:613.5px;font-size:7.69px;transform:scaleX(1.485);transform-origin:8.5px 50%;-webkit-text-stroke:0;color:rgba(0,0,0,0.70)">خلنت</span>
<span class="t" style="left:804.9px;top:658.3px;font-size:7.88px;-webkit-text-stroke:0;color:rgba(0,0,0,0.70)">0.3%</span>
<span class="t r" style="left:809.7px;top:647.6px;font-size:6.86px;transform:scaleX(1.170);transform-origin:5.3px 50%;-webkit-text-stroke:0;color:rgba(0,0,0,0.70)">خزر</span>
<span class="t" style="left:841.1px;top:615.9px;font-size:7.07px;-webkit-text-stroke:0;color:rgba(0,0,0,0.70)">-5%</span>
<span class="t r" style="left:839.5px;top:607.4px;font-size:4.98px;transform:scaleX(1.664);transform-origin:8.5px 50%;-webkit-text-stroke:0;color:rgba(0,0,0,0.70)">خمحرکه</span>
<span class="t" style="left:866.1px;top:615.1px;font-size:8.16px;-webkit-text-stroke:0;color:rgba(0,0,0,0.70)">-4.84%</span>
<span class="t r" style="left:874.7px;top:607.2px;font-size:5.21px;transform:scaleX(1.800);transform-origin:5.8px 50%;-webkit-text-stroke:0;color:rgba(0,0,0,0.70)">خاهن</span>
<span class="t" style="left:841.1px;top:638.9px;font-size:7.07px;-webkit-text-stroke:0;color:rgba(0,0,0,0.70)">-5%</span>
<span class="t r" style="left:840.4px;top:630.2px;font-size:5.84px;transform:scaleX(1.481);transform-origin:7.1px 50%;-webkit-text-stroke:0;color:rgba(0,0,0,0.70)">خلنتک</span>
<span class="t" style="left:866.1px;top:638.1px;font-size:8.16px;-webkit-text-stroke:0;color:rgba(0,0,0,0.70)">-4.48%</span>
<span class="t r" style="left:875.5px;top:630.0px;font-size:5.37px;transform:scaleX(1.800);transform-origin:5.0px 50%;-webkit-text-stroke:0;color:rgba(0,0,0,0.70)">خودا</span>
<span class="t" style="left:833.1px;top:660.1px;font-size:8.16px;-webkit-text-stroke:0;color:rgba(0,0,0,0.70)">-4.44%</span>
<span class="t r" style="left:842.9px;top:652.2px;font-size:5.19px;transform:scaleX(1.800);transform-origin:4.6px 50%;-webkit-text-stroke:0;color:rgba(0,0,0,0.70)">خاور</span>
<span class="t" style="left:866.1px;top:660.1px;font-size:8.16px;-webkit-text-stroke:0;color:rgba(0,0,0,0.70)">-4.93%</span>
<span class="t r" style="left:871.6px;top:650.7px;font-size:6.16px;transform:scaleX(1.535);transform-origin:8.9px 50%;-webkit-text-stroke:0;color:rgba(0,0,0,0.70)">خموتور</span></div>
</body></html>
